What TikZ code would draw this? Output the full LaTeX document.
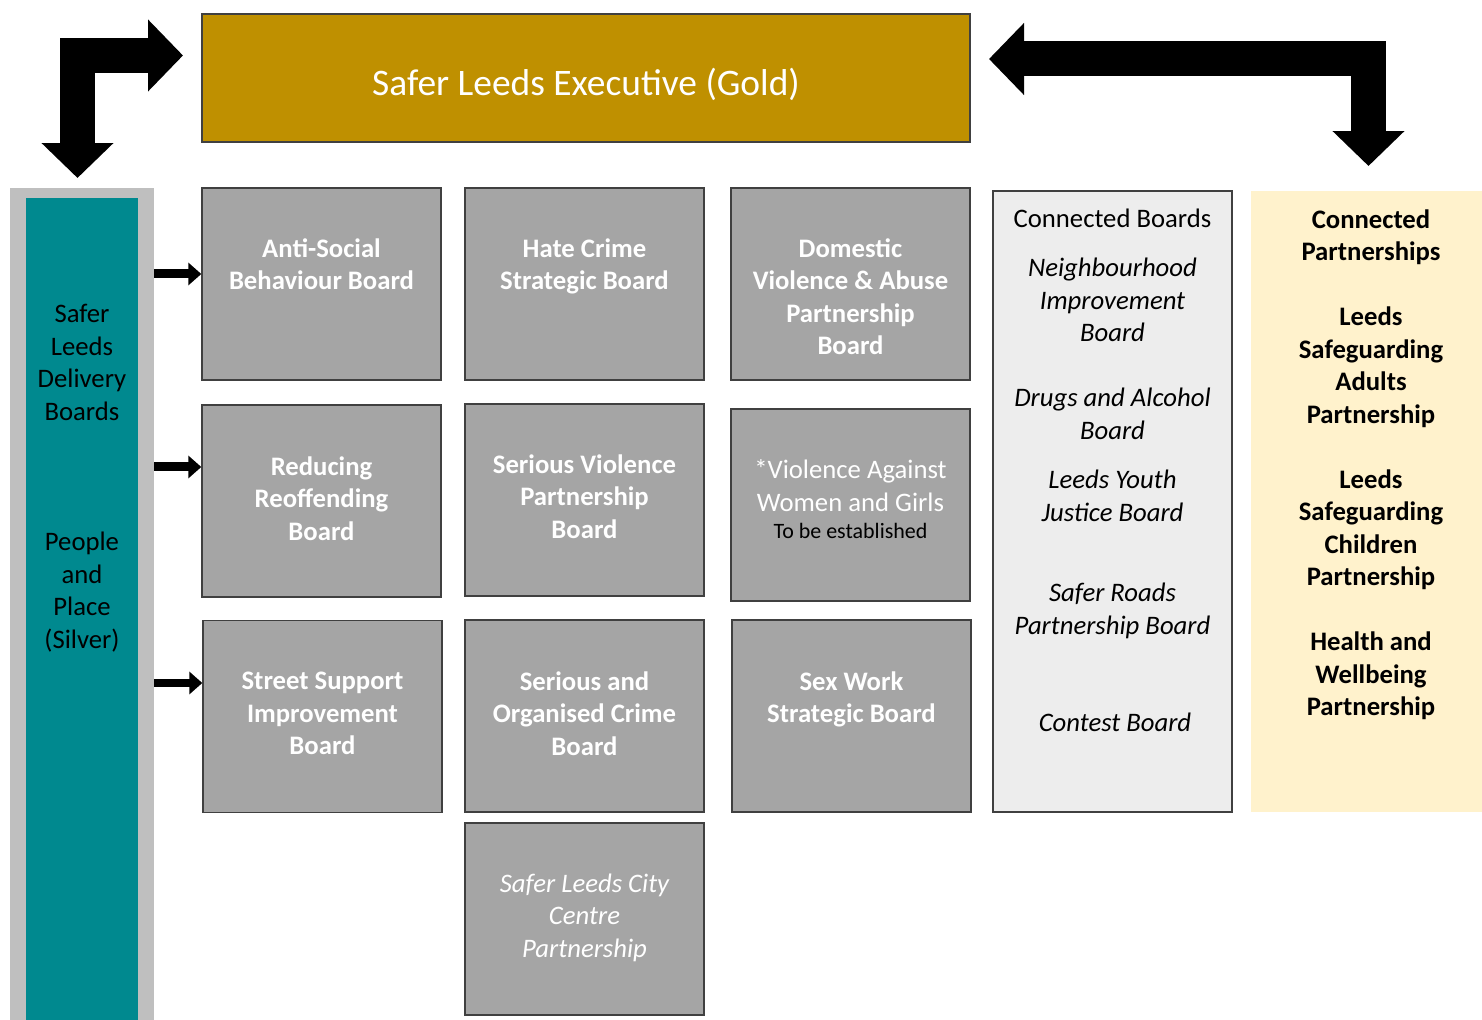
\documentclass[tikz,border=0pt]{standalone}
\usepackage{fontspec}
\setmainfont{Carlito}
\usetikzlibrary{positioning, arrows.meta}
\definecolor{goldfill}{HTML}{BF9000}
\definecolor{boardgray}{HTML}{A5A5A5}
\definecolor{silverfill}{HTML}{BFBFBF}
\definecolor{tealfill}{HTML}{00898F}
\definecolor{linkfill}{HTML}{EDEDED}
\definecolor{creamfill}{HTML}{FFF2CC}
\tikzset{
  board/.style={draw=black!75, line width=0.8pt, fill=boardgray, minimum width=4.78cm, minimum height=3.84cm, inner sep=0},
  boardtext/.style={text=white, font=\fontsize{15.2}{18.5}\selectfont\bfseries, align=center, inner sep=0},
  plaintext/.style={font=\fontsize{15.2}{18.5}\selectfont, align=center, inner sep=0, anchor=north},
  feed/.style={line width=0.18cm, -{Triangle[length=0.26cm, width=0.44cm]}},
  bigarrow/.style={line width=0.7cm, line join=miter, {Triangle[length=0.7cm, width=1.4cm]}-{Triangle[length=0.7cm, width=1.4cm]}}
}
\begin{document}
\begin{tikzpicture}[x=0.02cm, y=-0.02cm]
\useasboundingbox (0,0) rectangle (1482,1020);
% executive
\node[draw=black!75, line width=0.8pt, fill=goldfill, minimum width=15.36cm, minimum height=2.56cm] (gold) at (586,78) {};
\node[text=white, font=\fontsize{21.3}{25}\selectfont, inner sep=0] (goldtext) at (586,84) {Safer Leeds Executive (Gold)};
% silver column
\node[fill=silverfill, minimum width=2.88cm, minimum height=16.64cm, inner sep=0] (silver) at (82,604) {};
\node[fill=tealfill, minimum width=2.24cm, minimum height=16.44cm, inner sep=0] (teal) at (82,609) {};
\node[plaintext] (delivery) at (82,304) {Safer\\Leeds\\Delivery\\Boards};
\node[plaintext] (people) at (82,532) {People\\and\\Place\\(Silver)};
% delivery boards
\node[board] (asb) at (321.5,284) {};
\node[board] (hate) at (584.5,284) {};
\node[board] (dva) at (850.5,284) {};
\node[board] (ror) at (321.5,501) {};
\node[board] (svp) at (584.5,500) {};
\node[board] (vawg) at (850.5,505) {};
\node[board] (ssi) at (322.5,716.5) {};
\node[board] (soc) at (584.5,716) {};
\node[board] (sws) at (851.5,716) {};
\node[board] (slcc) at (584.5,919) {};
\node[boardtext, below=1.02cm of asb.north] {Anti-Social\\Behaviour Board};
\node[boardtext, below=1.02cm of hate.north] {Hate Crime\\Strategic Board};
\node[boardtext, below=1.02cm of dva.north] {Domestic\\Violence \& Abuse\\Partnership\\Board};
\node[boardtext, below=1.04cm of ror.north] {Reducing\\Reoffending\\Board};
\node[boardtext, below=1.02cm of svp.north] {Serious Violence\\Partnership\\Board};
\node[boardtext, below=1.02cm of vawg.north, font=\fontsize{15.2}{18.5}\selectfont] {*Violence Against\\Women and Girls\\[-3pt]{\color{black}\fontsize{12.5}{14}\selectfont To be established}};
\node[boardtext, below=1.04cm of ssi.north] {Street Support\\Improvement\\Board};
\node[boardtext, below=1.04cm of soc.north] {Serious and\\Organised Crime\\Board};
\node[boardtext, below=1.04cm of sws.north] {Sex Work\\Strategic Board};
\node[boardtext, below=1.02cm of slcc.north, font=\fontsize{15.2}{18.5}\selectfont\itshape] {Safer Leeds City\\Centre\\Partnership};
% connected boards
\node[draw=black!75, line width=0.8pt, fill=linkfill, minimum width=4.78cm, minimum height=12.42cm, inner sep=0] (boards) at (1112.5,501.5) {};
\node[plaintext] (cbtitle) at (1112.5,209) {Connected Boards};
\node[plaintext, font=\fontsize{15.2}{18.5}\selectfont\itshape] (nib) at (1112.5,258) {Neighbourhood\\Improvement\\Board};
\node[plaintext, font=\fontsize{15.2}{18.5}\selectfont\itshape] (dab) at (1112.5,388) {Drugs and Alcohol\\Board};
\node[plaintext, font=\fontsize{15.2}{18.5}\selectfont\itshape] (lyjb) at (1112.5,470) {Leeds Youth\\Justice Board};
\node[plaintext, font=\fontsize{15.2}{18.5}\selectfont\itshape] (srpb) at (1112.5,583) {Safer Roads\\Partnership Board};
\node[plaintext, font=\fontsize{15.2}{18.5}\selectfont\itshape] (contest) at (1115,713) {Contest Board};
% connected partnerships
\node[fill=creamfill, minimum width=4.62cm, minimum height=12.42cm, inner sep=0] (partners) at (1366.5,501.5) {};
\node[plaintext, font=\fontsize{15.2}{18.5}\selectfont\bfseries] (cptext) at (1371,209) {Connected\\Partnerships\\[18.5pt]Leeds\\Safeguarding\\Adults\\Partnership\\[18.5pt]Leeds\\Safeguarding\\Children\\Partnership\\[18.5pt]Health and\\Wellbeing\\Partnership};
% arrows
\draw[feed] (silver.east |- 0,274) -- (asb.west |- 0,274);
\draw[feed] (silver.east |- 0,467) -- (ror.west |- 0,467);
\draw[feed] (silver.east |- 0,683) -- (ssi.west |- 0,683);
\coordinate (ltip) at (77.5,178);
\coordinate (lbend) at (77.5,55.5);
\coordinate (rtip) at (183,55.5);
\draw[bigarrow] (ltip) -- (lbend) -- (rtip);
\coordinate (gtip) at (989,59);
\coordinate (pbend) at (1368.5,59);
\coordinate (ptip) at (1368.5,166);
\draw[bigarrow] (gtip) -- (pbend) -- (ptip);
\end{tikzpicture}
\end{document}
